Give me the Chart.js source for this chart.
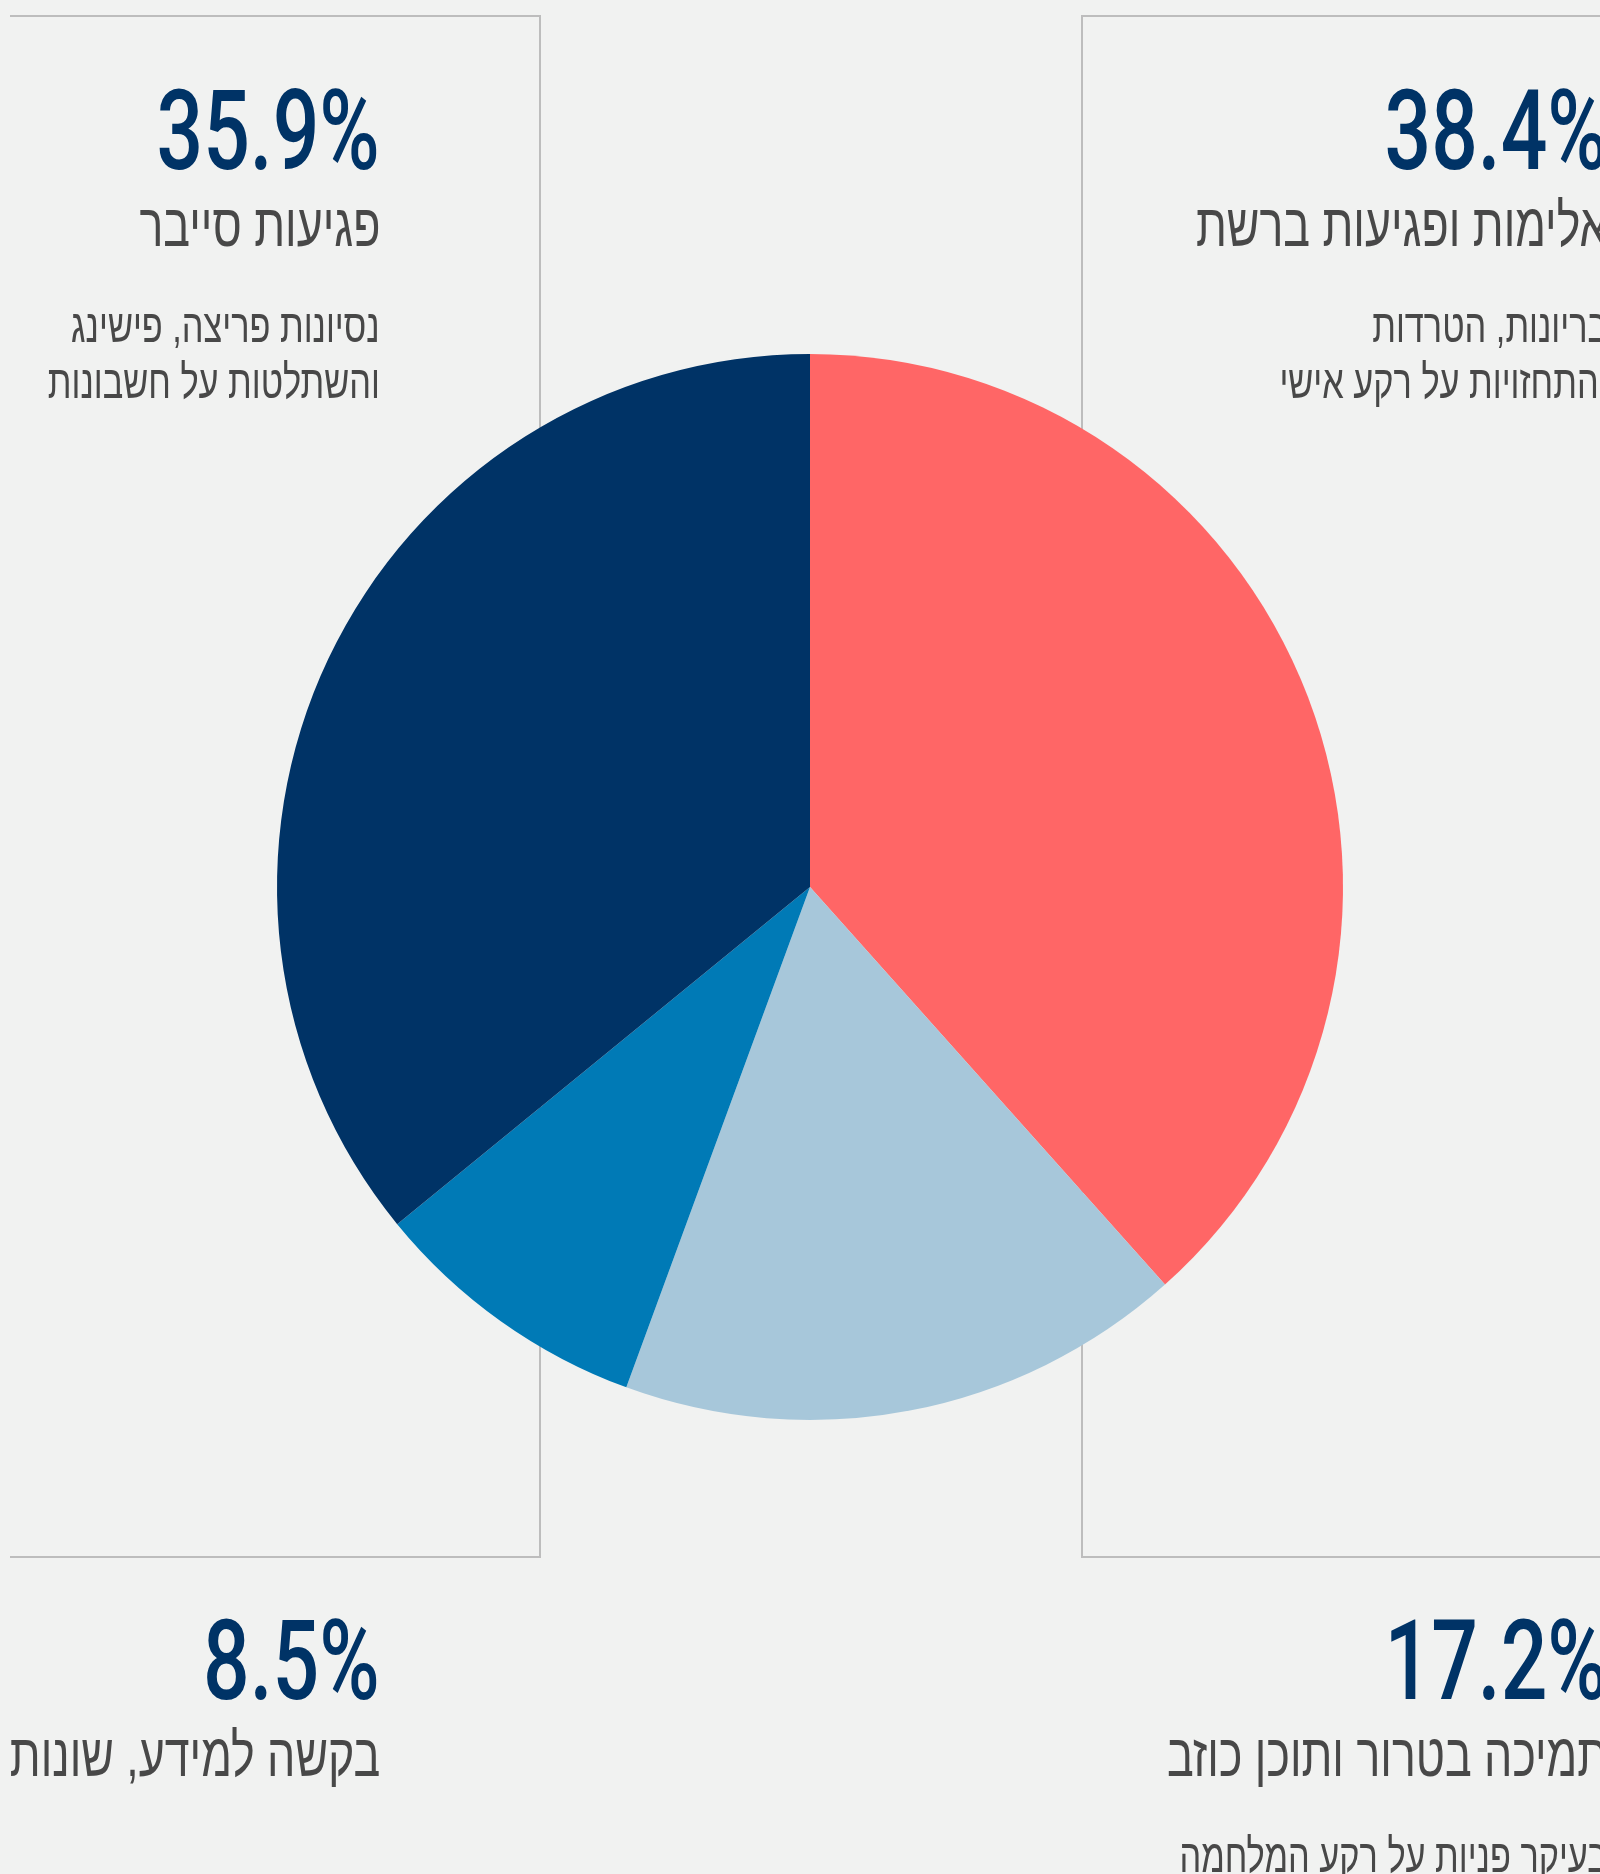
<!DOCTYPE html>
<html lang="he">
<head>
<meta charset="utf-8">
<script src="https://cdn.jsdelivr.net/npm/chart.js@4/dist/chart.umd.min.js"></script>
<style>
  html, body { margin: 0; padding: 0; background: #f1f2f1; }
  body { width: 1600px; height: 1874px; overflow: hidden; position: relative; }
  #wrap { position: absolute; left: 0; top: 0; width: 1600px; height: 1874px; }
  canvas { position: absolute; left: 0; top: 0; z-index: 2; }
  .box { position: absolute; border-color: #bdbdbd; border-style: solid; border-width: 0; z-index: 1; box-sizing: border-box; }
  .txt { position: absolute; white-space: nowrap; direction: rtl; transform-origin: right center;
         font-family: "Liberation Sans", "Arial", "DejaVu Sans", sans-serif; z-index: 3; }
  .pct { color: #003366; font-family: Roboto, "Liberation Sans", sans-serif; font-weight: 500; }
  .ttl { color: #484848; font-weight: normal; }
</style>
</head>
<body>
<div id="wrap">
  <div class="box" style="left:10px; top:15px; width:531px; height:1543px; border-top-width:2px; border-right-width:2px; border-bottom-width:2px;"></div>
  <div class="box" style="left:1081px; top:15px; width:560px; height:1543px; border-top-width:2px; border-left-width:2px; border-bottom-width:2px;"></div>
  <canvas id="c" width="1600" height="1874"></canvas>
</div>
<script>
// ---- data ----
const categories = ["אלימות ופגיעות ברשת", "תמיכה בטרור ותוכן כוזב", "בקשה למידע, שונות", "פגיעות סייבר"];
const values = [38.4, 17.2, 8.5, 35.9];
const descriptions = [
  ["בריונות, הטרדות", "והתחזויות על רקע אישי"],
  ["בעיקר פניות על רקע המלחמה"],
  [],
  ["נסיונות פריצה, פישינג", "והשתלטות על חשבונות"]
];
const colors = ["#ff6666", "#a7c7da", "#007ab6", "#003366"];

// ---- label layout (right edge x, baseline of percent) ----
const labelLayout = [
  { right: 1608, base: 169 },
  { right: 1608, base: 1699 },
  { right: 380, base: 1699 },
  { right: 380, base: 169 }
];

new Chart(document.getElementById("c"), {
  type: "pie",
  data: {
    labels: categories,
    datasets: [{ data: values, backgroundColor: colors, borderWidth: 0, hoverOffset: 0 }]
  },
  options: {
    responsive: false,
    animation: false,
    layout: { padding: { left: 277, right: 257, top: 354, bottom: 454 } },
    plugins: { legend: { display: false }, tooltip: { enabled: false } }
  }
});

const wrap = document.getElementById("wrap");
function addText(str, cls, size, right, baseline, sx, asc) {
  const d = document.createElement("div");
  d.className = "txt " + cls;
  d.textContent = str;
  d.style.fontSize = size + "px";
  d.style.lineHeight = size + "px";
  d.style.right = (1600 - right) + "px";
  d.style.top = (baseline - asc * size) + "px";
  d.style.transform = "scaleX(" + sx + ")";
  wrap.appendChild(d);
}
categories.forEach((cat, i) => {
  const L = labelLayout[i];
  addText(values[i].toFixed(1) + "%", "pct", 111, L.right, L.base, 0.74, 0.842);
  addText(cat, "ttl", 60, L.right, L.base + 78, 0.745, 0.8465);
  descriptions[i].forEach((line, j) => {
    addText(line, "ttl", 47, L.right, L.base + 173 + j * 56, 0.73, 0.8465);
  });
});
</script>
</body>
</html>
